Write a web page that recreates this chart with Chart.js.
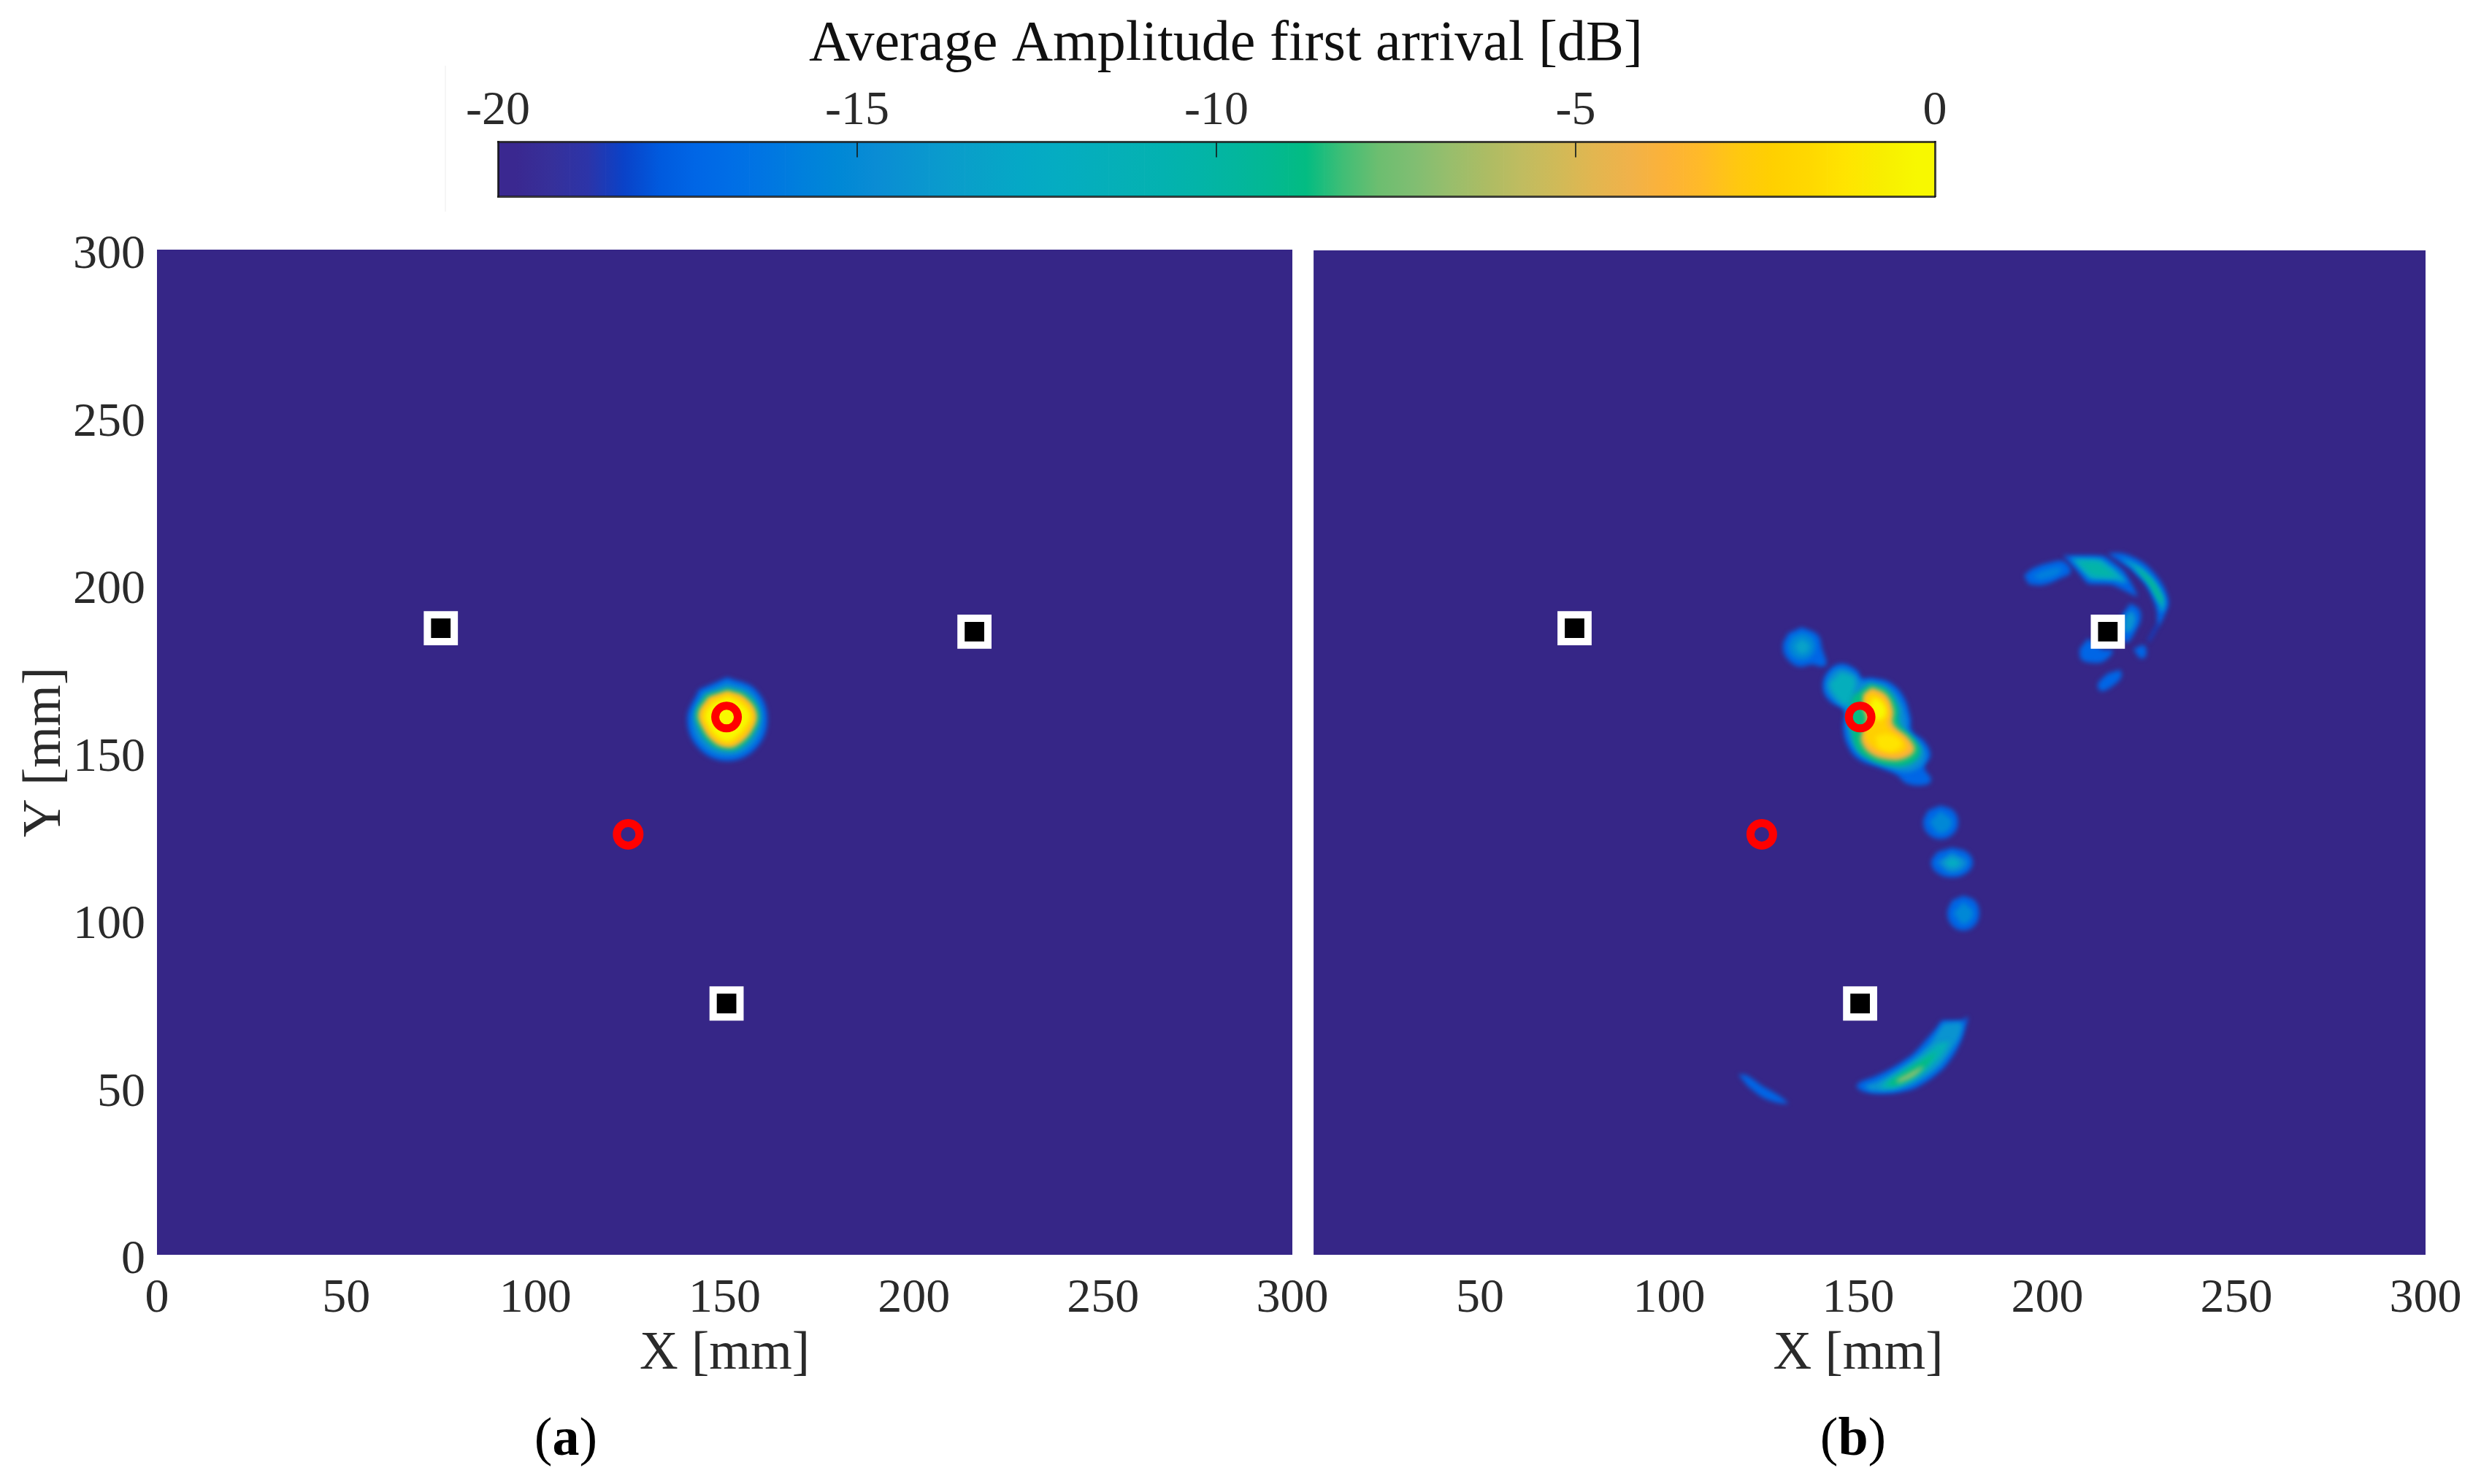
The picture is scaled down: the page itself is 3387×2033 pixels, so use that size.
<!DOCTYPE html>
<html>
<head>
<meta charset="utf-8">
<title>Average Amplitude first arrival</title>
<script src="https://cdn.jsdelivr.net/npm/chart.js@4/dist/chart.umd.min.js"></script>
<style>
  body { margin: 0; background: #fff; overflow: hidden; width: 3387px; height: 2033px; position: relative; }
  canvas { position: absolute; }
  .cap { position: absolute; font: 74px "Liberation Serif", serif; color: #000; top: 1926px; width: 200px; text-align: center; }
  #stray { position: absolute; left: 609px; top: 90px; width: 2px; height: 200px; background: #f6f6f6; }
</style>
</head>
<body>
<div id="stray"></div>
<canvas id="colorbar"></canvas>
<canvas id="plotB"></canvas>
<canvas id="plotA"></canvas>
<div class="cap" style="left:675px">(<b>a</b>)</div>
<div class="cap" style="left:2438px">(<b>b</b>)</div>
<script>
'use strict';
const axisTicks = [0, 50, 100, 150, 200, 250, 300];
const colorbarTicks = [-20, -15, -10, -5, 0];
const colorbarMarks = [-15, -10, -5];

// colorbar cells, 0.5 dB each, from -20 up to 0
const colorbarColors = [
  '#3a2890', '#36309a', '#2c34a8', '#0a42c8', '#005ade', '#0066e6', '#006ee6', '#0076e2',
  '#0080dc', '#0088d6', '#0a8cd4', '#0a94d0', '#0a9ccc', '#08a2c8', '#05a8c6', '#05acc2',
  '#05aebc', '#05b0b6', '#03b2b0', '#03b4a8', '#03b69e', '#03b892', '#03bc82', '#3fbe76',
  '#6cbe70', '#80be72', '#98be6c', '#acbc64', '#c0bc60', '#d0ba58', '#e2b650', '#f0b24a',
  '#fcb238', '#ffba28', '#ffc810', '#ffd000', '#ffd800', '#ffe400', '#f8ee00', '#f8f800'
];
const floorColor = '#362687';

const sensors = [[75, 187], [216, 186], [150.5, 75]];
const targets = [[124.5, 125.5], [150.5, 160.5]];

// contours, [x mm, y mm]
const floorA = [[0, 0], [300, 0], [300, 300], [0, 300]];
const floorB = [[6, 0], [300, 0], [300, 299.8], [6, 299.8]];

const spotOuter = [[150.7, 172.4], [158.2, 168.7], [161.3, 159.9], [158.2, 151.1], [150.7, 147.4], [143.2, 151.1], [140.1, 159.9], [143.2, 168.7]];
const spotMid = [[150.7, 170.9], [157.3, 167.7], [160, 159.9], [157.3, 152.1], [150.7, 148.9], [144.1, 152.1], [141.4, 159.9], [144.1, 167.7]];
const spotGreen = [[150.8, 169.2], [156, 167.2], [159.2, 161.8], [157.9, 156], [154, 151.2], [150.5, 150.5], [146.3, 152.3], [143.1, 157.4], [142.3, 162.1], [145, 167.2]];
const spotOrange = [[150.8, 168.4], [155.3, 166.5], [158.4, 161.6], [157.2, 156.5], [153.5, 152.2], [150.5, 151.4], [147, 153.1], [143.9, 157.8], [143.1, 161.8], [145.7, 166.5]];
const spotAmber = [[150.8, 167.6], [154.7, 165.8], [157.6, 161.4], [156.5, 157], [153.1, 153.1], [150.5, 152.3], [147.5, 153.9], [144.7, 158.1], [143.9, 161.6], [146.3, 165.8]];
const spotYellow = [[150.8, 166.5], [154, 164.8], [156.6, 161.2], [155.4, 157.6], [152.4, 154.1], [150.5, 153.4], [147.9, 154.9], [145.5, 158.5], [144.9, 161.4], [147, 164.8]];

const upperOuter = [[135.1, 187.3], [139.3, 185], [140.5, 180.8], [141.6, 176.2], [140.2, 175.6], [137.9, 176.2], [134.2, 175.6], [131, 178.2], [130.1, 181.9], [131.5, 185.5]];
const upperMid = [[135.1, 185.6], [137.6, 184.4], [138.6, 181.6], [137.6, 178.8], [135.1, 177.6], [132.6, 178.8], [131.6, 181.6], [132.6, 184.4]];
const upperCore = [[135.1, 183.9], [137.1, 181.6], [135.1, 179.3], [133.1, 181.6]];

const mainOuter = [[153.6, 172.2], [158.2, 170.9], [161.9, 166.8], [163.8, 160.5], [164.2, 156.4], [167.5, 153.2], [169.1, 149.1], [167.5, 145.4], [169.3, 141.8], [167.5, 140.2], [162.8, 140.7], [160.1, 143.3], [155.5, 145.4], [149.9, 148], [147.1, 152.2], [146, 157.4], [146.2, 162.6], [142.5, 165.2], [140.7, 168.9], [141.6, 173.5], [145.3, 176.4], [149.5, 174.6], [150.8, 172]];
const mainMid = [[153.6, 171.2], [157.8, 169.7], [161, 165.7], [162.8, 160], [163.3, 155.5], [166.5, 152.4], [167.9, 149.1], [166.1, 145.4], [161.9, 144.1], [155.9, 146.5], [150.8, 149.1], [148.1, 152.7], [147, 157.4], [147.1, 162.1], [143.9, 165.2], [141.6, 168.9], [142.5, 173], [145.5, 175.1], [149, 173.5], [150.8, 170.9]];
const neckTeal = [[145.5, 173.9], [149, 172], [148.5, 166.8], [147.1, 164.2], [143.9, 166.8], [142.3, 170.4]];
const mainGreen = [[153.1, 170.4], [157.3, 168.9], [160.5, 163.6], [161, 158.4], [164.7, 154.3], [166.5, 150.1], [163.8, 146.5], [158.2, 145.9], [152.7, 148], [149.5, 151.1], [148.1, 156.4], [147.3, 160.5], [148.5, 166.8]];
const mainOrange = [[153.6, 169.4], [157.3, 167.3], [159.3, 162.6], [159.3, 158.4], [163.3, 154.3], [164.9, 150.6], [161.9, 148], [157.3, 147.8], [153.1, 149.6], [150.8, 153.2], [151, 155.8], [152.2, 159.5], [151.3, 163.6], [151.3, 167.3]];
const mainAmber = [[153.6, 167.8], [156.8, 165.7], [158, 161.6], [157.8, 157.9], [161.9, 153.7], [162.8, 151.1], [160.1, 149.6], [156.4, 150.1], [153.1, 152.2], [151.8, 155.3], [153.1, 159.5], [152.2, 163.6], [151.8, 166.3]];
const mainYellow = [[154.1, 166.3], [156.4, 164.7], [157.3, 161.6], [155.4, 159.5], [154.1, 160.5], [153.1, 163.6]];
const mainGold = [[154.5, 154.8], [158.2, 155.3], [161.5, 152.7], [159.1, 150.3], [155.4, 151.1]];

const dotC = [[171.8, 134.1], [175.1, 132.6], [176.4, 129.1], [175.1, 125.6], [171.8, 124.1], [168.5, 125.6], [167.2, 129.1], [168.5, 132.6]];
const dotCCore = [[171.8, 132.4], [174.8, 129.1], [171.8, 125.8], [168.8, 129.1]];
const dotD = [[174.8, 121.5], [178.7, 120.2], [180.3, 117.1], [178.7, 114], [174.8, 112.7], [170.9, 114], [169.3, 117.1], [170.9, 120.2]];
const dotDMid = [[174.8, 120.1], [178.8, 117.1], [174.8, 114.1], [170.8, 117.1]];
const dotDCore = [[174.8, 118.7], [177, 117.1], [174.8, 115.5], [172.6, 117.1]];
const dotE = [[177.8, 107.2], [180.8, 105.7], [182, 102], [180.8, 98.3], [177.8, 96.8], [174.8, 98.3], [173.6, 102], [174.8, 105.7]];
const dotECore = [[177.8, 105.3], [180.4, 102], [177.8, 98.7], [175.2, 102]];

const arcOuter = [[172, 69.9], [177.7, 70.1], [179, 71.1], [178.4, 68.1], [177.4, 64.4], [175.5, 60.1], [172.6, 55.7], [169.1, 52.4], [164.6, 49.5], [159.4, 48.2], [154.3, 48.1], [151.1, 48.8], [149.5, 50.3], [150.7, 51.7], [154.3, 53.2], [159.4, 56.1], [164.6, 60.1], [168.4, 64.8], [170.4, 67.3]];
const arcMid = [[172.6, 69.1], [177.4, 69.1], [176.8, 65.2], [174.5, 60.8], [171.6, 56.4], [168.4, 53.5], [163.9, 50.6], [159.4, 49.2], [153.6, 49], [151.7, 50.3], [154.9, 51.7], [160.1, 55], [165.2, 59], [169.1, 63.3], [171.3, 67]];
const arcTeal = [[174.2, 63.7], [172, 59.3], [168.1, 55], [163.9, 51.7], [159.4, 49.9], [155.6, 49.9], [158.1, 52.4], [162.6, 55.7], [167.1, 59.3], [171, 63]];
const arcGreen = [[171, 60.8], [167.8, 56.1], [163.9, 52.8], [160.1, 50.6], [157.5, 50.8], [160.7, 53.5], [164.6, 56.4], [168.4, 59]];
const arcLight = [[167.5, 56.1], [164.6, 53.2], [160.7, 51.4], [160.1, 52], [163, 53.9], [166.5, 56.1]];
const sliver = [[118.3, 53.9], [120.8, 53.4], [124.7, 50.3], [129.2, 47.4], [131.4, 45.2], [128.6, 45.4], [124.7, 47], [120.8, 50.3]];

const topLeft = [[193.8, 202.7], [196.1, 204.8], [200.7, 206.6], [204.4, 206.9], [206.2, 203.8], [203, 201.7], [198.8, 199.9], [195.1, 200.1]];
const topLeftCore = [[196.1, 202.7], [200.7, 204.8], [203.9, 204.8], [202.1, 202.7], [197.9, 201.4]];
const shardOuter = [[204.2, 208.7], [215, 208.5], [220.1, 204.3], [222.4, 200.1], [223.8, 196.5], [217.3, 199.9], [210.8, 200.3], [208.1, 203.8]];
const shardMid = [[206.2, 207.9], [214.1, 207.6], [218.7, 203.8], [221, 200.6], [217.3, 201.4], [211.3, 201.7], [209, 204.3]];
const shardCore = [[208.1, 206.9], [213.6, 206.6], [217.3, 203.5], [218.2, 202.2], [212.2, 202.7], [209.9, 204.8]];
const bowOuter = [[215.9, 209.3], [220.1, 209.3], [225.6, 206.4], [230.2, 200.6], [232.1, 194.9], [230.9, 190.7], [229.3, 187.6], [228.8, 192.8], [226.1, 199.6], [221.9, 204.8]];
const bowMid = [[219.1, 208.2], [224.7, 205.3], [229.3, 199.6], [231.1, 194.7], [230.2, 191.8], [229.3, 194.9], [226.5, 200.6], [222.4, 205.3]];
const bowCore = [[222.8, 205.8], [227.4, 201.7], [230.4, 195.9], [230, 194.4], [227, 200.1]];
const bowThread = [[229.7, 188.1], [227, 182.9], [226.5, 183.2], [228.8, 188.1]];
const besideSensor = [[221.9, 194.4], [224.2, 192.8], [224.7, 189.7], [223.3, 186.1], [221.4, 182.9], [220.1, 183.4], [219.6, 190.7]];
const besideCore = [[222.4, 192.3], [223.3, 189.7], [221.9, 186.1], [220.5, 186.1], [220.5, 190.7]];
const belowSensor = [[210.8, 184], [214.5, 180.8], [217.3, 180.3], [215, 177.2], [211.8, 176.7], [209, 177.7], [208.5, 180.8]];
const tailSpot = [[222.8, 180.8], [225.6, 181.9], [226.1, 178.8], [224.7, 178], [223.3, 179.8]];
const lowSpot = [[219.3, 174.6], [219.6, 172.5], [216.8, 169.4], [214.1, 168.3], [213.4, 170.4], [215.9, 173.5]];

// each entry: level in dB, contour, curve tension. Painted in this order.
const fieldA = [
  [-20, floorA, 0],
  [-17.5, spotOuter, 0.4], [-15, spotMid, 0.4], [-9, spotGreen, 0.4],
  [-4, spotOrange, 0.4], [-2.5, spotAmber, 0.4], [-0.5, spotYellow, 0.4]
];
const fieldB = [
  [-20, floorB, 0],
  [-17.5, upperOuter, 0.4], [-15.5, upperMid, 0.4], [-13.5, upperCore, 0.5],
  [-17.5, mainOuter, 0.4], [-15, mainMid, 0.4], [-12, neckTeal, 0.4], [-9, mainGreen, 0.4],
  [-4, mainOrange, 0.4], [-2.5, mainAmber, 0.4], [-1.25, mainGold, 0.4], [-0.5, mainYellow, 0.4],
  [-17.5, dotC, 0.4], [-15.5, dotCCore, 0.5],
  [-17.5, dotD, 0.4], [-15, dotDMid, 0.5], [-12.5, dotDCore, 0.5],
  [-17.5, dotE, 0.4], [-15.5, dotECore, 0.5],
  [-17.5, arcOuter, 0.25], [-14.5, arcMid, 0.25], [-11.5, arcTeal, 0.3], [-8.75, arcGreen, 0.3], [-7, arcLight, 0.3],
  [-17.5, sliver, 0.3],
  [-17.5, topLeft, 0.4], [-16, topLeftCore, 0.4],
  [-17.5, shardOuter, 0.15], [-13, shardMid, 0.15], [-10.5, shardCore, 0.15],
  [-17.5, bowOuter, 0.3], [-13, bowMid, 0.3], [-9.5, bowCore, 0.3], [-18.5, bowThread, 0.2],
  [-17.5, besideSensor, 0.4], [-14.5, besideCore, 0.4],
  [-17.5, belowSensor, 0.4], [-17.5, tailSpot, 0.4], [-17.5, lowSpot, 0.4]
];

const serif = '"Liberation Serif", serif';
const inkColor = '#2a2a2a';

function colorFor(level) {
  if (level <= -20) return floorColor;
  const i = Math.min(colorbarColors.length - 1, Math.floor((level + 20) * 2));
  return colorbarColors[i];
}

function toPoints(pairs) {
  return pairs.map(p => ({ x: p[0], y: p[1] }));
}

// the line element gives the curve through the contour, filled here so it can be softened
const softFill = {
  id: 'softFill',
  beforeDatasetDraw(chart, args) {
    const ds = chart.data.datasets[args.index];
    if (ds.level === undefined) return;
    const ctx = chart.ctx;
    const area = chart.chartArea;
    const line = args.meta.dataset;
    line.updateControlPoints(area, 'x');
    ctx.save();
    ctx.beginPath();
    ctx.rect(area.left, area.top, area.right - area.left, area.bottom - area.top);
    ctx.clip();
    if (ds.level > -20) ctx.filter = 'blur(3px)';
    ctx.fillStyle = colorFor(ds.level);
    ctx.beginPath();
    line.path(ctx);
    ctx.closePath();
    ctx.fill();
    ctx.restore();
  }
};

function fieldDatasets(field) {
  const sets = field.map((c, i) => ({
    level: c[0],
    data: toPoints(c[1]),
    showLine: true,
    tension: c[2],
    borderWidth: 0,
    pointRadius: 0,
    order: 200 - i
  }));
  sets.push({
    data: toPoints(targets),
    pointStyle: 'circle',
    pointRadius: 15.5,
    borderWidth: 11,
    borderColor: '#ff0000',
    backgroundColor: 'rgba(0,0,0,0)',
    order: 1
  });
  sets.push({
    data: toPoints(sensors),
    pointStyle: 'rect',
    pointRadius: 26,
    borderWidth: 10,
    borderColor: '#ffffff',
    backgroundColor: '#000000',
    order: 0
  });
  return sets;
}

function setTicks(list) {
  return scale => { scale.ticks = list.map(v => ({ value: v })); };
}

function plotOptions(showY, hideFirstX, pad) {
  return {
    responsive: false,
    animation: false,
    devicePixelRatio: 1,
    events: [],
    layout: { padding: pad },
    plugins: { legend: { display: false }, tooltip: { enabled: false } },
    scales: {
      x: {
        type: 'linear',
        min: 0,
        max: 300,
        grid: { display: false, drawTicks: false },
        border: { display: false },
        afterBuildTicks: setTicks(axisTicks),
        afterFit: s => { s.height = 181; s.paddingLeft = 0; s.paddingRight = 0; },
        ticks: {
          color: inkColor,
          font: { family: serif, size: 66 },
          maxRotation: 0,
          autoSkip: false,
          padding: 21,
          callback: v => (hideFirstX && v === 0 ? '' : v)
        },
        title: {
          display: true,
          text: 'X [mm]',
          color: inkColor,
          font: { family: serif, size: 73 },
          padding: { top: 0, bottom: 0 }
        }
      },
      y: {
        type: 'linear',
        display: showY,
        min: 0,
        max: 300,
        grid: { display: false, drawTicks: false },
        border: { display: false },
        afterBuildTicks: setTicks(axisTicks),
        afterFit: s => { if (showY) s.width = 215; s.paddingTop = 0; s.paddingBottom = 0; },
        ticks: {
          color: inkColor,
          font: { family: serif, size: 66 },
          autoSkip: false,
          padding: 16,
          labelOffset: 8
        },
        title: {
          display: true,
          text: 'Y [mm]',
          color: inkColor,
          font: { family: serif, size: 73 },
          padding: { top: 19, bottom: 0 }
        }
      }
    }
  };
}

function makePlot(id, left, width, field, showY, hideFirstX, pad) {
  const el = document.getElementById(id);
  el.width = width;
  el.height = 1600;
  el.style.left = left + 'px';
  el.style.top = '300px';
  return new Chart(el, {
    type: 'scatter',
    data: { datasets: fieldDatasets(field) },
    options: plotOptions(showY, hideFirstX, pad),
    plugins: [softFill]
  });
}

makePlot('plotA', 0, 1830, fieldA, true, false, { left: 0, right: 60, top: 42, bottom: 0 });
makePlot('plotB', 1732, 1655, fieldB, false, true, { left: 0, right: 65, top: 42, bottom: 0 });

// colorbar
const cbEl = document.getElementById('colorbar');
cbEl.width = 2158;
cbEl.height = 290;
cbEl.style.left = '600px';
cbEl.style.top = '0px';

let cbGradient = null;
function cbFill(c) {
  const area = c.chart.chartArea;
  if (!area) return colorbarColors[0];
  if (!cbGradient) {
    cbGradient = c.chart.ctx.createLinearGradient(area.left, 0, area.right, 0);
    colorbarColors.forEach((col, i) => cbGradient.addColorStop((i + 0.5) / colorbarColors.length, col));
  }
  return cbGradient;
}

const cbDatasets = [{
  type: 'bar',
  data: colorbarColors.map((c, i) => ({ x: -19.75 + i * 0.5, y: 1 })),
  backgroundColor: cbFill,
  barPercentage: 1,
  categoryPercentage: 1,
  order: 5
}];
colorbarMarks.forEach(m => {
  cbDatasets.push({
    type: 'scatter',
    data: [{ x: m, y: 1 }, { x: m, y: 0.72 }],
    showLine: true,
    borderColor: 'rgba(20,30,30,0.85)',
    borderWidth: 2,
    pointRadius: 0,
    order: 1
  });
});

const boxEdge = { color: 'rgba(20,20,20,0.8)', width: 3, z: 1 };
new Chart(cbEl, {
  data: { datasets: cbDatasets },
  options: {
    responsive: false,
    animation: false,
    devicePixelRatio: 1,
    events: [],
    layout: { padding: { left: 0, right: 0, top: 0, bottom: 21 } },
    plugins: {
      legend: { display: false },
      tooltip: { enabled: false },
      title: {
        display: true,
        text: 'Average Amplitude first arrival [dB]',
        color: '#111',
        font: { family: serif, size: 78, weight: 'normal' },
        padding: { top: 15, bottom: 0 }
      }
    },
    scales: {
      x: {
        type: 'linear',
        position: 'top',
        min: -20,
        max: 0,
        offset: false,
        grid: { display: false, drawTicks: false },
        border: boxEdge,
        afterBuildTicks: setTicks(colorbarTicks),
        afterFit: s => { s.height = 86; s.paddingLeft = 0; s.paddingRight = 0; },
        ticks: {
          color: inkColor,
          font: { family: serif, size: 66 },
          maxRotation: 0,
          autoSkip: false,
          padding: 2
        }
      },
      xEdge: {
        type: 'linear',
        position: 'bottom',
        min: -20,
        max: 0,
        grid: { display: false, drawTicks: false },
        border: boxEdge,
        afterFit: s => { s.paddingLeft = 0; s.paddingRight = 0; },
        ticks: { display: false }
      },
      y: {
        min: 0,
        max: 1,
        grid: { display: false, drawTicks: false },
        border: boxEdge,
        afterFit: s => { s.width = 82; s.paddingTop = 0; s.paddingBottom = 0; },
        ticks: { display: false }
      },
      yEdge: {
        position: 'right',
        min: 0,
        max: 1,
        grid: { display: false, drawTicks: false },
        border: boxEdge,
        afterFit: s => { s.width = 108; s.paddingTop = 0; s.paddingBottom = 0; },
        ticks: { display: false }
      }
    }
  }
});
</script>
</body>
</html>
